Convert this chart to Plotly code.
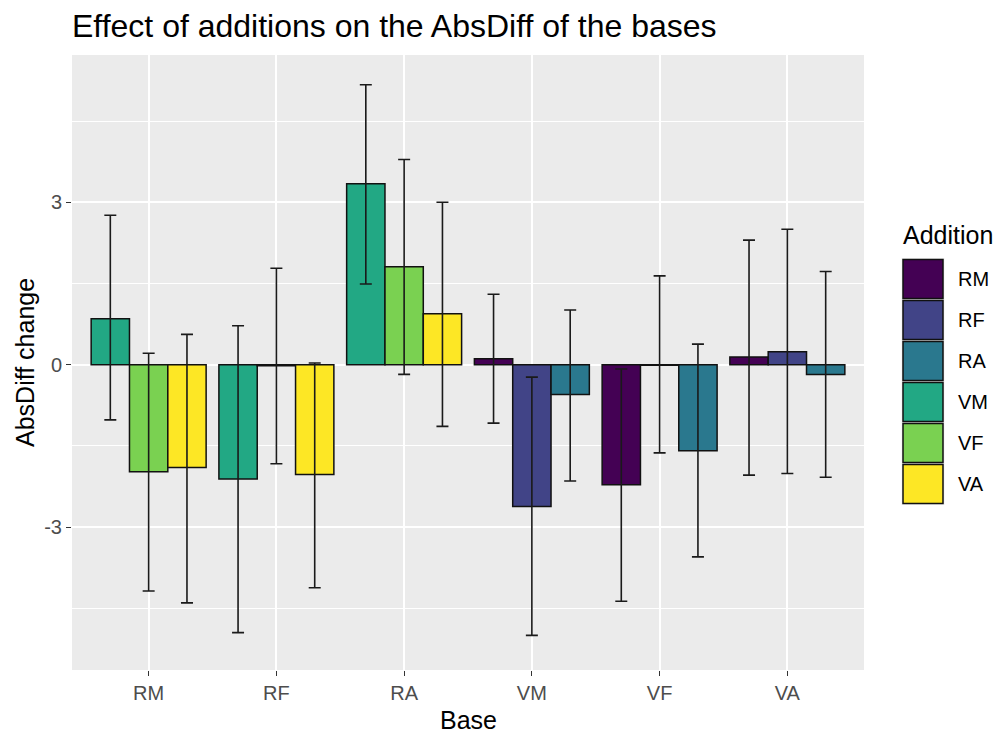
import plotly.graph_objects as go

# ---------------- data ----------------
bases = ["RM", "RF", "RA", "VM", "VF", "VA"]
additions = ["RM", "RF", "RA", "VM", "VF", "VA"]
add_colors = ["#440154", "#414487", "#2A788E", "#22A884", "#7AD151", "#FDE725"]

base_col = ["RM", "RM", "RM", "RF", "RF", "RF", "RA", "RA", "RA",
            "VM", "VM", "VM", "VF", "VF", "VF", "VA", "VA", "VA"]
addition_col = ["VM", "VF", "VA", "VM", "VF", "VA", "VM", "VF", "VA",
                "RM", "RF", "RA", "RM", "RF", "RA", "RM", "RF", "RA"]
mean_change = [0.85, -1.98, -1.90, -2.11, -0.02, -2.03, 3.34, 1.81, 0.94,
               0.11, -2.62, -0.55, -2.22, -0.01, -1.59, 0.14, 0.24, -0.18]
ci_lower = [-1.02, -4.18, -4.40, -4.95, -1.83, -4.12, 1.49, -0.18, -1.14,
            -1.08, -5.00, -2.15, -4.37, -1.63, -3.55, -2.04, -2.01, -2.08]
ci_upper = [2.76, 0.21, 0.56, 0.72, 1.78, 0.03, 5.17, 3.79, 3.00,
            1.30, -0.23, 1.01, -0.08, 1.64, 0.38, 2.30, 2.50, 1.72]

y_ticks = [-3, 0, 3]

# ---------------- layout geometry ----------------
W, H = 999, 736
L, R, T, B = 72, 864, 55, 670
DODGE = 0.9


def px_x(px):
    return (px - L) / (R - L)


def px_y(py):
    return (B - py) / (B - T)


# dodge positions (ggplot position_dodge equivalent)
slots = {}
for b in bases:
    present = [a for a in additions
               if any(bc == b and ac == a for bc, ac in zip(base_col, addition_col))]
    for k, a in enumerate(present):
        slots[(b, a)] = (k, len(present))

fig = go.Figure()
for a, col in zip(additions, add_colors):
    xs, ys, up, dn = [], [], [], []
    for b, ac, m, lo, hi in zip(base_col, addition_col, mean_change, ci_lower, ci_upper):
        if ac != a:
            continue
        k, n = slots[(b, a)]
        w = DODGE / n
        xs.append(bases.index(b) + 1 - DODGE / 2 + w * (k + 0.5))
        ys.append(m)
        up.append(hi - m)
        dn.append(m - lo)
    fig.add_trace(go.Bar(
        x=xs, y=ys, width=DODGE / 3, name=a,
        marker=dict(color=col, line=dict(color="#111111", width=1.5)),
        error_y=dict(type="data", symmetric=False, array=up, arrayminus=dn,
                     color="#1a1a1a", thickness=1.6, width=6),
        showlegend=False,
    ))

FONT = "Liberation Sans, Arial, sans-serif"

fig.update_layout(
    width=W, height=H,
    margin=dict(l=L, r=W - R, t=T, b=H - B, pad=0),
    paper_bgcolor="white",
    plot_bgcolor="#EBEBEB",
    barmode="overlay",
    font=dict(family=FONT, color="black"),
    title=dict(text="Effect of additions on the AbsDiff of the bases",
               font=dict(size=32, family=FONT, color="black"),
               xref="paper", x=0, xanchor="left",
               yref="container", y=1 - 25.5 / H, yanchor="middle"),
    xaxis=dict(
        range=[0.4, 6.6], tickmode="array",
        tickvals=list(range(1, len(bases) + 1)), ticktext=bases,
        showgrid=True, gridcolor="white", gridwidth=2,
        zeroline=False, showline=False,
        ticks="outside", ticklen=5, tickwidth=1.3, tickcolor="#333333",
        tickfont=dict(size=20, color="#4D4D4D", family=FONT),
    ),
    yaxis=dict(
        range=[-5.64, 5.72], tickmode="array", tickvals=y_ticks,
        ticktext=[str(v) for v in y_ticks],
        showgrid=True, gridcolor="white", gridwidth=2,
        minor=dict(tickmode="linear", tick0=1.5, dtick=3, showgrid=True,
                   gridcolor="white", gridwidth=1, ticks=""),
        zeroline=False, showline=False,
        ticks="outside", ticklen=5, tickwidth=1.3, tickcolor="#333333",
        tickfont=dict(size=20, color="#4D4D4D", family=FONT),
    ),
)

annotations = [
    dict(text="Base", xref="paper", yref="paper", x=0.5, y=px_y(719.5),
         xanchor="center", yanchor="middle", showarrow=False,
         font=dict(size=25, color="black", family=FONT)),
    dict(text="AbsDiff change", xref="paper", yref="paper", x=px_x(24.5),
         y=px_y((T + B) / 2), xanchor="center", yanchor="middle",
         textangle=-90, showarrow=False,
         font=dict(size=25, color="black", family=FONT)),
    dict(text="Addition", xref="paper", yref="paper", x=px_x(901),
         y=px_y(235.5), xanchor="left", yanchor="middle", showarrow=False,
         font=dict(size=25, color="black", family=FONT)),
]

shapes = []
KEY_TOP, KEY_PITCH, KEY_H = 259.5, 41, 39
shapes.append(dict(type="rect", xref="paper", yref="paper",
                   x0=px_x(901.5), x1=px_x(944.5),
                   y0=px_y(KEY_TOP - 1.5), y1=px_y(KEY_TOP + KEY_PITCH * 5 + KEY_H + 1.5),
                   fillcolor="#F2F2F2", line=dict(width=0), layer="above"))
for i, (a, col) in enumerate(zip(additions, add_colors)):
    top = KEY_TOP + KEY_PITCH * i
    shapes.append(dict(type="rect", xref="paper", yref="paper",
                       x0=px_x(903), x1=px_x(943),
                       y0=px_y(top + KEY_H), y1=px_y(top),
                       fillcolor=col, line=dict(color="#111111", width=1.5),
                       layer="above"))
    annotations.append(dict(text=a, xref="paper", yref="paper", x=px_x(956),
                            y=px_y(top + KEY_H / 2), xanchor="left",
                            yanchor="middle", showarrow=False,
                            font=dict(size=20, color="black", family=FONT)))

fig.update_layout(annotations=annotations, shapes=shapes)

# remove the browser's default 8px body margin so the figure fills the window exactly
fig.write_html("out.html",
               config={"displayModeBar": False},
               post_script="document.body.style.margin='0';"
                           "document.body.style.overflow='hidden';")
